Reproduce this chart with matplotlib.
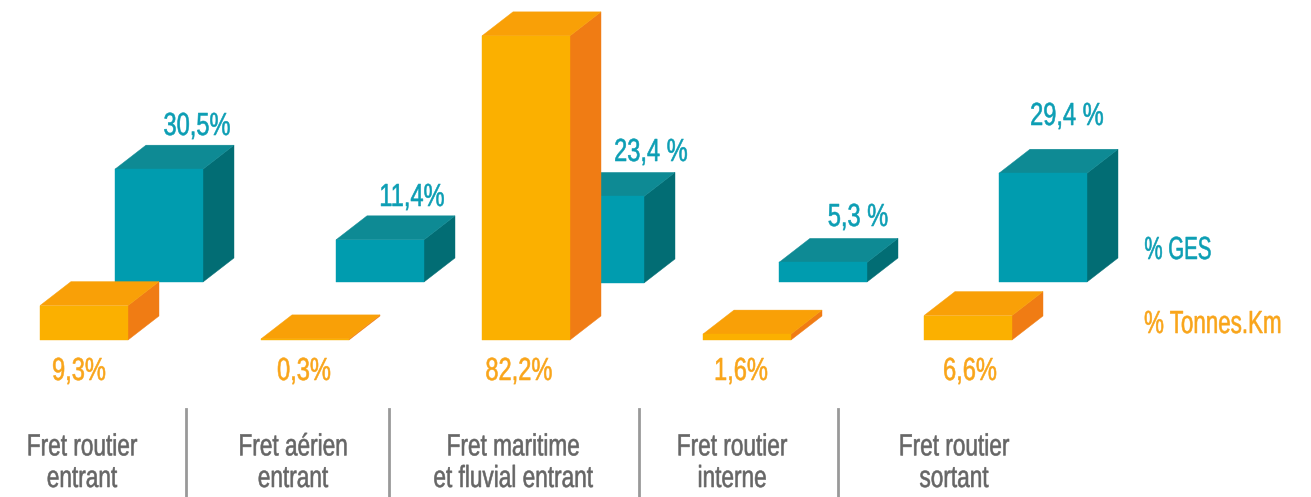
import matplotlib
matplotlib.use('Agg')
from matplotlib import pyplot as plt
from matplotlib.patches import Polygon
from matplotlib.patheffects import AbstractPathEffect
from matplotlib.transforms import Affine2D

plt.rcParams['font.family'] = ['Liberation Sans', 'DejaVu Sans']

categories = ['Fret routier\nentrant', 'Fret aérien\nentrant', 'Fret maritime\net fluvial entrant',
              'Fret routier\ninterne', 'Fret routier\nsortant']
tonnes = [9.3, 0.3, 82.2, 1.6, 6.6]
ges = [30.5, 11.4, 23.4, 5.3, 29.4]
tonnes_labels = ['9,3%', '0,3%', '82,2%', '1,6%', '6,6%']
ges_labels = ['30,5%', '11,4%', '23,4 %', '5,3 %', '29,4 %']

# layout, in pixels of the picture
scale = 3.7
w = 88
dx, dy = 31, 24
orange_x = [40, 261, 482, 703, 924]
teal_x = [115, 336, 556, 779, 999]
orange_base = 340
teal_base = [282, 282, 283, 282, 282]
cat_x = [82, 293, 513, 732, 954]
sep_x = [186, 389, 639, 838]
tonnes_label_x = [79, 304, 519, 741, 970]
ges_label_xy = [(197, 135), (412, 206), (651, 161), (858, 226), (1067, 125)]
fs = 23
fs_cat = 22

orange = ('#FBB000', '#F9A007', '#F07C14')
teal = ('#009CAF', '#0E8A94', '#026D74')


# no condensed font here, so squeeze the glyphs sideways around the anchor
# the thin stroke makes up for the weight lost in squeezing
class Squeeze(AbstractPathEffect):
    def __init__(self, x0, sx):
        super().__init__()
        self.x0 = x0
        self.sx = sx

    def draw_path(self, renderer, gc, tpath, affine, rgbFace=None):
        t = affine + Affine2D().translate(-self.x0, 0).scale(self.sx, 1).translate(self.x0, 0)
        gc0 = renderer.new_gc()
        gc0.copy_properties(gc)
        gc0.set_linewidth(.4)
        gc0.set_foreground(rgbFace)
        renderer.draw_path(gc0, tpath, t, rgbFace)
        gc0.restore()


def label(ax, x, y, s, color, size, narrow=.74, spacing=1.0):
    t = ax.text(x, y, s, color=color, fontsize=size, ha='center', va='baseline', linespacing=spacing)
    t.set_path_effects([Squeeze(x, narrow)])
    return t


def bar3d(ax, x, base, value, colors):
    top = base - value * scale
    front, upper, side = colors
    ax.add_patch(Polygon([(x + w, base), (x + w + dx, base - dy), (x + w + dx, top - dy), (x + w, top)],
                         fc=side, ec=side, lw=.3))
    ax.add_patch(Polygon([(x, top), (x + dx, top - dy), (x + w + dx, top - dy), (x + w, top)],
                         fc=upper, ec=upper, lw=.3))
    ax.add_patch(Polygon([(x, base), (x + w, base), (x + w, top), (x, top)],
                         fc=front, ec=front, lw=.3))


fig = plt.figure(figsize=(13.11, 4.97), dpi=100)
ax = fig.add_axes([0, 0, 1, 1])
ax.set_xlim(0, 1311)
ax.set_ylim(497, 0)
ax.axis('off')

for x, b, v in zip(teal_x, teal_base, ges):
    bar3d(ax, x, b, v, teal)
for x, v in zip(orange_x, tonnes):
    bar3d(ax, x, orange_base, v, orange)

for x, s in zip(tonnes_label_x, tonnes_labels):
    label(ax, x, 380, s, '#F9A51A', fs)
for (x, y), s in zip(ges_label_xy, ges_labels):
    label(ax, x, y, s, '#0C9EB4', fs)

for x, s in zip(cat_x, categories):
    label(ax, x, 487, s, '#666666', fs_cat, spacing=1.07)
for x in sep_x:
    ax.plot([x, x], [409, 497], color='#999999', lw=2)

label(ax, 1178, 259, '% GES', '#0C9EB4', fs, narrow=.64)
label(ax, 1213, 333, '% Tonnes.Km', '#F9A51A', fs, narrow=.7)

plt.savefig('out.png', dpi=100)
